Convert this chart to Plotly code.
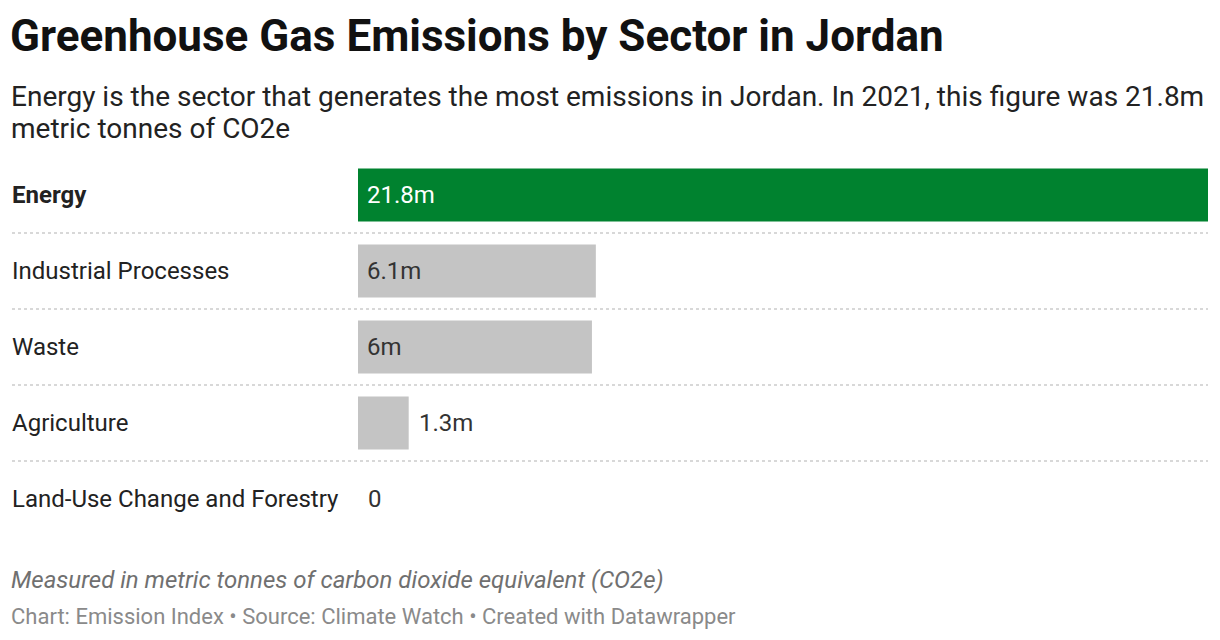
import plotly.graph_objects as go

# Data
sectors = ["Energy", "Industrial Processes", "Waste", "Agriculture",
           "Land-Use Change and Forestry"]
emissions = [21.8, 6.1, 6.0, 1.3, 0.0]
value_labels = ["21.8m", "6.1m", "6m", "1.3m", "0"]
bar_colors = ["#00822f", "#c4c4c4", "#c4c4c4", "#c4c4c4", "#c4c4c4"]

# the page body adds an 8px margin, so the figure is drawn 8px smaller per side
OFF = 8
W, H = 1220 - 2 * OFF, 640 - 2 * OFF
M_L, M_R, M_T, M_B = 358 - OFF, 12 - OFF, 157 - OFF, 103 - OFF
PLOT_H = H - M_T - M_B


def py(pix):
    # page pixel row -> paper y
    return (H - M_B - (pix - OFF)) / PLOT_H


def px(pix):
    # page pixel column -> paper x
    return ((pix - OFF) - M_L) / (W - M_L - M_R)


rows = list(range(len(sectors)))

fig = go.Figure(go.Bar(
    x=emissions, y=rows, orientation="h",
    marker=dict(color=bar_colors, line=dict(width=0)),
    width=0.70, hoverinfo="skip",
))

annotations = []
shapes = []

# category labels + value labels
for i, (name, val, lab) in enumerate(zip(sectors, emissions, value_labels)):
    annotations.append(dict(
        x=px(10), xref="paper", y=i, yref="y", xanchor="left", yanchor="middle",
        text=f"<b>{name}</b>" if i == 0 else name, showarrow=False,
        font=dict(size=24, color="#222222"),
    ))
    inside = val > 3
    annotations.append(dict(
        x=0 if inside else val, xref="x", y=i, yref="y",
        xanchor="left", yanchor="middle", xshift=7 if inside else 8,
        text=lab, showarrow=False,
        font=dict(size=24, color="#ffffff" if i == 0 else "#333333"),
    ))

# dotted separators between rows
for i in rows[:-1]:
    shapes.append(dict(
        type="line", xref="paper", yref="y", x0=px(12), x1=1, y0=i + 0.5, y1=i + 0.5,
        line=dict(color="#cccccc", width=1.5, dash="dot"),
    ))

# title, subtitle, notes
annotations += [
    dict(x=px(8), xref="paper", y=py(36), yref="paper", xanchor="left", yanchor="middle",
         text="<b>Greenhouse Gas Emissions by Sector in Jordan</b>", showarrow=False,
         font=dict(size=44, color="#111111")),
    dict(x=px(9), xref="paper", y=py(97), yref="paper", xanchor="left", yanchor="middle",
         showarrow=False,
         text="Energy is the sector that generates the most emissions in Jordan. In 2021, this figure was 21.8m",
         font=dict(size=28, color="#222222")),
    dict(x=px(9), xref="paper", y=py(128), yref="paper", xanchor="left", yanchor="middle",
         showarrow=False, text="metric tonnes of CO2e",
         font=dict(size=28, color="#222222")),
    dict(x=px(9), xref="paper", y=py(580), yref="paper", xanchor="left", yanchor="middle",
         text="<i>Measured in metric tonnes of carbon dioxide equivalent (CO2e)</i>", showarrow=False,
         font=dict(size=24, color="#707070")),
    dict(x=px(9), xref="paper", y=py(616), yref="paper", xanchor="left", yanchor="middle",
         text="Chart: Emission Index • Source: Climate Watch • Created with Datawrapper",
         showarrow=False, font=dict(size=22, color="#8a8a8a")),
]

fig.update_layout(
    width=W, height=H,
    margin=dict(l=M_L, r=M_R, t=M_T, b=M_B),
    paper_bgcolor="white", plot_bgcolor="white",
    font=dict(family="Roboto, sans-serif"),
    xaxis=dict(range=[0, emissions[0]], visible=False, fixedrange=True),
    yaxis=dict(range=[len(sectors) - 0.5, -0.5], visible=False, fixedrange=True),
    showlegend=False,
    annotations=annotations,
    shapes=shapes,
)

fig.write_html("out.html", config={"displayModeBar": False})
